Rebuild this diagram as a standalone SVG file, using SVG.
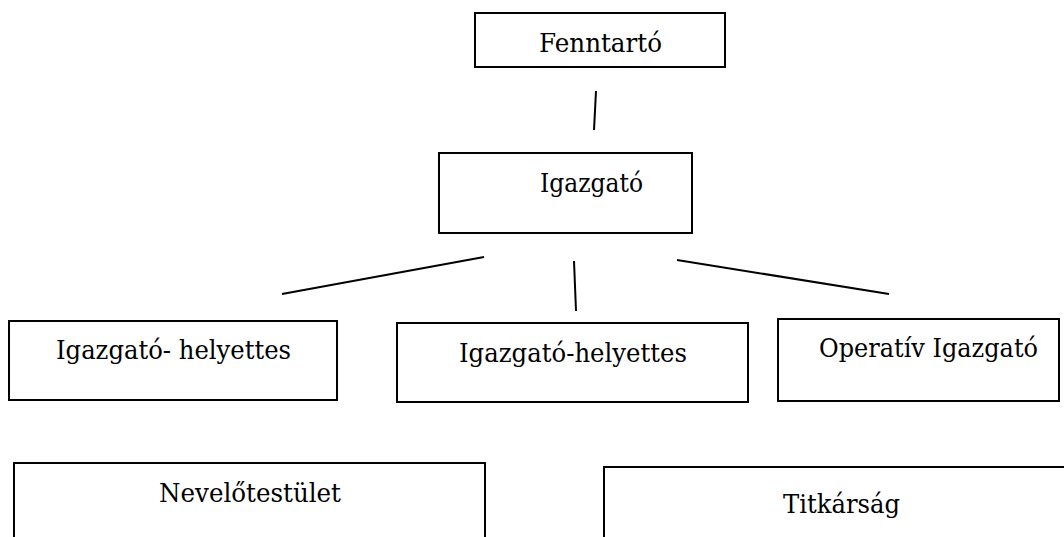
<svg xmlns="http://www.w3.org/2000/svg" width="1064" height="537" viewBox="0 0 1064 537">
<style>
.box{fill:#fff;stroke:#000;stroke-width:2}
.lbl{font-family:"DejaVu Serif","Liberation Serif",serif;font-size:26.5px;fill:#000}
.con{stroke:#000;stroke-width:2;fill:none}
</style>
<rect width="1064" height="537" fill="#fff"/>
<g id="connectors">
<line class="con" x1="596" y1="91" x2="594" y2="130"/>
<line class="con" x1="282" y1="294" x2="484" y2="257"/>
<line class="con" x1="574" y1="261" x2="576" y2="311"/>
<line class="con" x1="677" y1="260" x2="889" y2="294"/>
</g>
<g id="fenntarto">
<rect class="box" x="475" y="13" width="250" height="54"/>
<text class="lbl" x="539" y="52" textLength="123" lengthAdjust="spacingAndGlyphs">Fenntartó</text>
</g>
<g id="igazgato">
<rect class="box" x="439" y="153" width="253" height="80"/>
<text class="lbl" x="540" y="192" textLength="103" lengthAdjust="spacingAndGlyphs">Igazgató</text>
</g>
<g id="helyettes1">
<rect class="box" x="9" y="321" width="328" height="79"/>
<text class="lbl" x="56" y="359" textLength="235" lengthAdjust="spacingAndGlyphs">Igazgató- helyettes</text>
</g>
<g id="helyettes2">
<rect class="box" x="397" y="323" width="351" height="79"/>
<text class="lbl" x="459" y="362" textLength="228" lengthAdjust="spacingAndGlyphs">Igazgató-helyettes</text>
</g>
<g id="operativ">
<rect class="box" x="778" y="319" width="281" height="82"/>
<text class="lbl" x="819" y="357" textLength="219" lengthAdjust="spacingAndGlyphs">Operatív Igazgató</text>
</g>
<g id="nevelotestulet">
<rect class="box" x="14" y="463" width="471" height="90"/>
<text class="lbl" x="159" y="502" textLength="182" lengthAdjust="spacingAndGlyphs">Nevelőtestület</text>
</g>
<g id="titkarsag">
<rect class="box" x="604" y="467" width="480" height="90"/>
<text class="lbl" x="783" y="513" textLength="117" lengthAdjust="spacingAndGlyphs">Titkárság</text>
</g>
</svg>
